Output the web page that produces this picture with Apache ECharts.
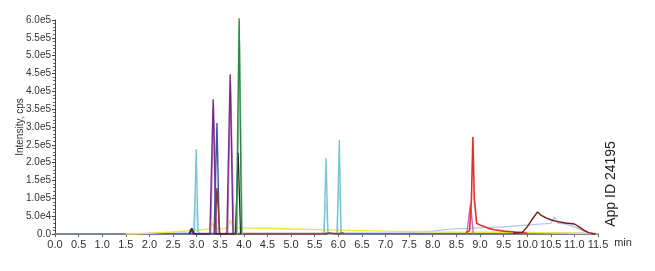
<!DOCTYPE html>
<html><head><meta charset="utf-8">
<script src="https://cdn.jsdelivr.net/npm/echarts@6/dist/echarts.min.js"></script>
<style>html,body{margin:0;padding:0;background:#fff}#c{width:655px;height:271px}</style>
</head><body><div id="c"></div>
<script>
const yTickLabels = ['0.0','5.0e4','1.0e5','1.5e5','2.0e5','2.5e5','3.0e5','3.5e5','4.0e5','4.5e5','5.0e5','5.5e5','6.0e5'];
const cyanMain = [[2.90,0],[2.95,6e3],[2.99,2.38e5],[3.03,6e3],[3.08,0],[5.65,0],[5.70,6e3],[5.74,2.13e5],[5.78,6e3],[5.83,0],[5.93,0],[5.98,6e3],[6.02,2.63e5],[6.06,6e3],[6.11,0]];
const cyanLight = [[2.92,0],[2.97,1.15e5],[3.02,0],[5.68,0],[5.73,0.92e5],[5.78,0],[5.96,0],[6.01,1.53e5],[6.06,0]];
const purple = [[2.84,0],[2.88,1.5e4],[2.92,0],[3.28,0],[3.35,3.78e5],[3.41,0],[3.64,0],[3.71,4.48e5],[3.77,0]];
const lavender = [[3.30,0],[3.36,3.55e5],[3.43,0],[3.66,0],[3.72,4.25e5],[3.79,0]];
const blue = [[3.37,0],[3.43,3.11e5],[3.48,0]];
const brown = [[3.38,0],[3.43,1.29e5],[3.49,0],[5.68,0],[5.70,3e3],[5.80,3e3],[5.82,0],[5.96,0],[5.98,3e3],[6.10,3e3],[6.12,0]];
const green = [[3.84,0],[3.90,6.05e5],[3.95,0]];
const greenLight = [[3.86,0],[3.91,5.4e5],[3.97,0]];
const black = [[2.85,0],[2.90,1.6e4],[2.95,0],[3.82,0],[3.88,2.27e5],[3.93,0]];
const yellow = [[1.5,0],[2.0,2e3],[2.5,6e3],[2.9,1e4],[3.2,1.3e4],[3.28,1.6e4],[3.33,3.1e4],[3.38,1.5e4],[3.6,1.5e4],[3.66,1.8e4],[3.71,3.9e4],[3.77,1.8e4],[4.0,1.7e4],[4.5,1.6e4],[5.0,1.4e4],[6.0,1.1e4],[7.0,8e3],[8.0,6e3],[9.0,5e3],[10.0,4e3],[11.0,2e3],[11.5,1e3]];
const red = [[8.70,3e3],[8.78,1e4],[8.82,1e5],[8.85,2.72e5],[8.88,1e5],[8.93,3e4],[9.0,2.5e4],[9.1,2e4],[9.2,1.5e4],[9.3,1.2e4],[9.5,8e3],[9.8,5e3],[10.0,2e3]];
const magenta = [[8.72,0],[8.80,8.4e4],[8.86,0]];
const darkRed = [[9.7,2e3],[9.9,5e3],[10.0,2e4],[10.1,4e4],[10.22,6.2e4],[10.3,5.2e4],[10.4,4.5e4],[10.5,4e4],[10.6,3.6e4],[10.8,3.1e4],[11.0,2.8e4],[11.1,2e4],[11.2,1.1e4],[11.3,4e3],[11.45,0]];
const lightBlue = [[7.5,5e3],[8.0,8e3],[8.4,1.4e4],[8.8,1.6e4],[9.0,1.8e4],[9.5,2e4],[10.0,2.5e4],[10.3,2.8e4],[10.5,3e4],[10.58,4.8e4],[10.65,3e4],[10.8,2.8e4],[11.0,2e4],[11.2,8e3],[11.35,0]];
const navy = [[1.8,0],[2.0,1.5e3],[11.2,1.5e3],[11.4,0]];

function s(data, color, w){
  return {type:'line', data, symbol:'none', clip:false, lineStyle:{color, width:w||1.2}, itemStyle:{color}, z:2};
}
const chart = echarts.init(document.getElementById('c'), null, {renderer:'canvas'});
chart.setOption({
  animation:false,
  grid:{left:55, right:57, top:20, bottom:37},
  xAxis:{type:'value', min:0, max:11.5, interval:0.5,
    name:'min', nameLocation:'end', nameGap:5,
    nameTextStyle:{fontFamily:'Liberation Sans', fontSize:11, color:'#333', verticalAlign:'top', padding:[3,0,0,0]},
    axisLine:{lineStyle:{color:'#7f8890', width:2}},
    axisTick:{length:3, lineStyle:{color:'#666'}},
    axisLabel:{fontFamily:'Liberation Sans', fontSize:11, color:'#333', margin:5, formatter:v=>v.toFixed(1)},
    splitLine:{show:false}},
  yAxis:{type:'value', min:0, max:600000, interval:50000,
    name:'Intensity, cps', nameLocation:'middle', nameGap:30, nameMoveOverlap:false,
    nameTextStyle:{fontFamily:'Liberation Sans', fontSize:10, color:'#333'},
    axisLine:{show:true, lineStyle:{color:'#444', width:1}},
    axisTick:{show:true, length:3, lineStyle:{color:'#444'}},
    minorTick:{show:true, splitNumber:5, length:2, lineStyle:{color:'#666'}},
    axisLabel:{fontFamily:'Liberation Sans', fontSize:10, color:'#333', margin:4, formatter:(v)=>yTickLabels[Math.round(v/50000)]},
    splitLine:{show:false}},
  graphic:[{type:'text', x:611, y:184, rotation:Math.PI/2,
    style:{text:'App ID 24195', fontFamily:'Liberation Sans', fontSize:14, fill:'#222', textAlign:'center', textVerticalAlign:'middle'}}],
  series:[
    s(navy,'#5a64a8',1.5),
    s(lightBlue,'#a9c9ea'),
    s(yellow,'#f2e43c',1.4),
    s(cyanLight,'#bfe2ea'),
    s(cyanMain,'#78c4d8',1.4),
    s(lavender,'#b992c4'),
    s(purple,'#7a2a88',1.4),
    s(blue,'#3b56a8',1.4),
    s(brown,'#8c3a2c',1.4),
    s(greenLight,'#9ccfa8'),
    s(black,'#222222'),
    s(green,'#2e8a46',1.4),
    s(magenta,'#c26ac4',1.4),
    s(red,'#e8302a',1.6),
    s(darkRed,'#7a1616',1.4)
  ]
});
</script></body></html>
